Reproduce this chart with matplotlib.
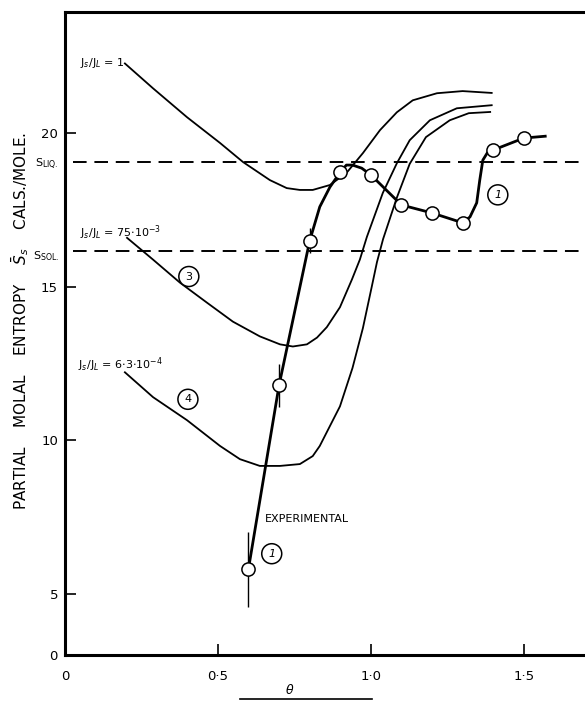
import matplotlib
matplotlib.use("Agg")
import matplotlib.pyplot as plt
from matplotlib.lines import Line2D

# theoretical curves (theta, partial molal entropy)
theta_j1 = [0.196, 0.288, 0.399, 0.507, 0.582, 0.670, 0.725, 0.768, 0.810, 0.866,
            0.92, 0.974, 1.03, 1.085, 1.137, 1.216, 1.30, 1.395]
s_j1 = [22.27, 21.46, 20.52, 19.68, 19.06, 18.47, 18.21, 18.15, 18.15, 18.31,
        18.70, 19.35, 20.10, 20.68, 21.07, 21.30, 21.37, 21.31]

theta_j3 = [0.203, 0.288, 0.376, 0.464, 0.549, 0.637, 0.703, 0.745, 0.791, 0.824,
            0.856, 0.899, 0.938, 0.964, 0.987, 1.039, 1.085, 1.127, 1.193, 1.281, 1.395]
s_j3 = [16.59, 15.88, 15.13, 14.48, 13.86, 13.38, 13.12, 13.05, 13.12, 13.34,
        13.68, 14.33, 15.23, 15.88, 16.62, 18.05, 19.02, 19.77, 20.42, 20.81, 20.91]

theta_j4 = [0.196, 0.288, 0.399, 0.507, 0.572, 0.637, 0.703, 0.768, 0.810, 0.833,
            0.856, 0.899, 0.94, 0.974, 1.003, 1.02, 1.04, 1.085, 1.127, 1.18, 1.258,
            1.32, 1.39]
s_j4 = [12.21, 11.40, 10.65, 9.81, 9.38, 9.16, 9.16, 9.22, 9.48, 9.81,
        10.26, 11.10, 12.35, 13.65, 15.00, 15.80, 16.55, 17.90, 19.00, 19.87, 20.42,
        20.65, 20.69]

# experimental curve (hand drawn line) and measured points
theta_exp_line = [0.60, 0.70, 0.80, 0.833, 0.866, 0.90, 0.92, 0.94, 0.97, 1.00, 1.10,
                  1.20, 1.30, 1.324, 1.346, 1.356, 1.366, 1.382, 1.40, 1.50, 1.57]
s_exp_line = [5.81, 11.79, 16.49, 17.60, 18.24, 18.73, 18.96, 18.96, 18.86, 18.64, 17.66,
              17.40, 17.08, 17.27, 17.73, 18.47, 19.12, 19.38, 19.45, 19.84, 19.90]

theta_exp = [0.60, 0.70, 0.80, 0.90, 1.00, 1.10, 1.20, 1.30, 1.40, 1.50]
s_exp = [5.81, 11.79, 16.49, 18.73, 18.64, 17.66, 17.40, 17.08, 19.45, 19.84]

err_theta = [0.60, 0.70, 0.80]
err_lo = [4.58, 11.07, 16.10]
err_hi = [7.01, 12.47, 16.90]

s_liq = 19.06
s_sol = 16.17

# axis is broken below 5: bottom of the frame is labelled 0
y_ticks = [3, 5, 10, 15, 20]
y_tick_labels = ["0", "5", "10", "15", "20"]
x_ticks = [0, 0.5, 1.0, 1.5]
x_tick_labels = ["0", "0\u00b75", "1\u00b70", "1\u00b75"]

fig = plt.figure(figsize=(5.85, 7.01), dpi=100)
ax = fig.add_axes([0.111, 0.0656, 0.889, 0.917])

ax.plot(theta_j1, s_j1, color="black", lw=1.3)
ax.plot(theta_j3, s_j3, color="black", lw=1.3)
ax.plot(theta_j4, s_j4, color="black", lw=1.3)
ax.plot(theta_exp_line, s_exp_line, color="black", lw=2.0)
ax.vlines(err_theta, err_lo, err_hi, color="black", lw=1.0)
ax.plot(theta_exp, s_exp, "o", ms=9.5, mfc="white", mec="black", mew=1.1, zorder=5)

ax.axhline(s_liq, xmin=0.015, color="black", lw=1.4, ls=(0, (7, 4)))
ax.axhline(s_sol, xmin=0.015, color="black", lw=1.4, ls=(0, (7, 4)))

ax.set_xlim(0, 1.7)
ax.set_ylim(3, 23.94)
ax.set_xticks(x_ticks)
ax.set_xticklabels(x_tick_labels)
ax.set_yticks(y_ticks)
ax.set_yticklabels(y_tick_labels)
ax.tick_params(direction="in", length=8, width=1.2, labelsize=9.5)
ax.tick_params(axis="x", pad=11)
ax.tick_params(axis="y", pad=5)

for side in ["left", "bottom", "top"]:
    ax.spines[side].set_linewidth(2.2)
ax.spines["right"].set_linewidth(0.6)
ax.spines["right"].set_color("#999999")

# curve labels
ax.text(0.049, 22.27, r"J$_s$/J$_L$ = 1", fontsize=8, va="center")
ax.text(0.049, 16.75, r"J$_s$/J$_L$ = 75$\cdot$10$^{-3}$", fontsize=8, va="center")
ax.text(0.042, 12.45, r"J$_s$/J$_L$ = 6$\cdot$3$\cdot$10$^{-4}$", fontsize=8, va="center")
ax.text(0.654, 7.43, "EXPERIMENTAL", fontsize=8, va="center")

circ = dict(boxstyle="circle,pad=0.45", fc="white", ec="black", lw=1.1)
ax.text(0.405, 15.33, "3", fontsize=8, ha="center", va="center", bbox=circ)
ax.text(0.402, 11.33, "4", fontsize=8, ha="center", va="center", bbox=circ)
ax.text(0.676, 6.30, "1", fontsize=8, ha="center", va="center", style="italic", bbox=circ)
ax.text(1.415, 17.99, "1", fontsize=8, ha="center", va="center", style="italic", bbox=circ)

ax.text(-0.02, 18.98, r"S$_{\mathrm{LIQ.}}$", fontsize=8, ha="right", va="center", clip_on=False)
ax.text(-0.02, 16.0, r"S$_{\mathrm{SOL.}}$", fontsize=8, ha="right", va="center", clip_on=False)

fig.text(0.034, 0.542, r"PARTIAL    MOLAL    ENTROPY    $\bar{S}_s$    CALS./MOLE.",
         rotation=90, fontsize=11, ha="center", va="center")

fig.text(290 / 585, 1 - 690 / 701, r"$\theta$", fontsize=9, ha="center", va="center")
fig.add_artist(Line2D([240 / 585, 372 / 585], [1 - 699 / 701, 1 - 699 / 701],
                      color="black", lw=1.2))

fig.savefig("out.png", dpi=100)
